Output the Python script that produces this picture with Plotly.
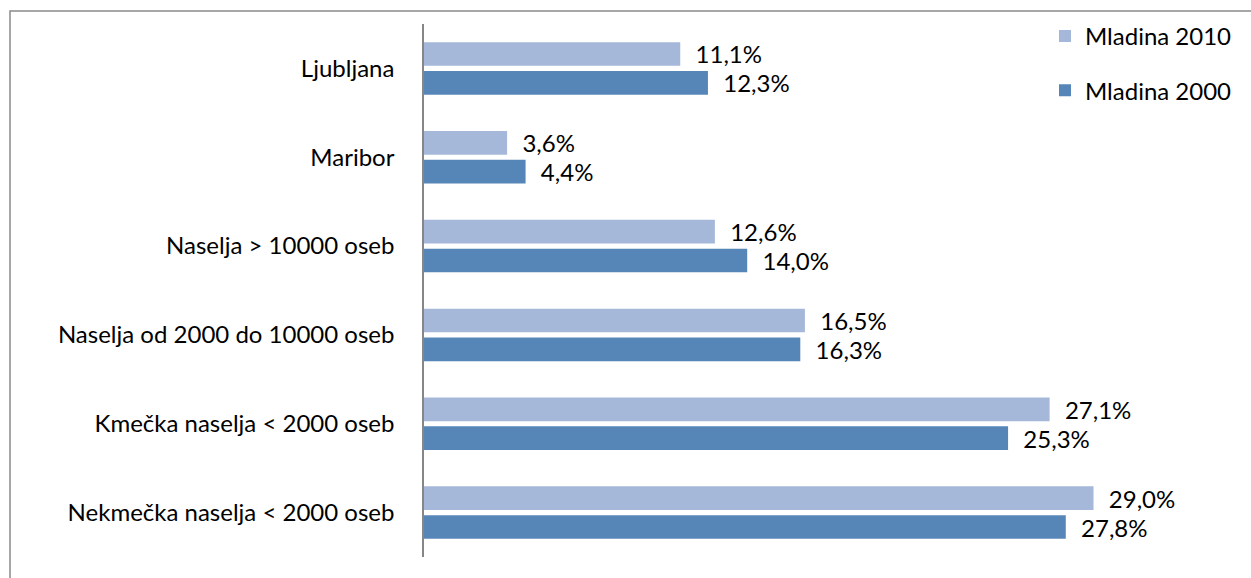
import plotly.graph_objects as go

categories = ["Ljubljana", "Maribor", "Naselja > 10000 oseb",
              "Naselja od 2000 do 10000 oseb", "Kmečka naselja < 2000 oseb",
              "Nekmečka naselja < 2000 oseb"]
mladina_2010 = [11.1, 3.6, 12.6, 16.5, 27.1, 29.0]
mladina_2000 = [12.3, 4.4, 14.0, 16.3, 25.3, 27.8]
series_names = ["Mladina 2010", "Mladina 2000"]
colors = ["#A5B8D9", "#5686B8"]

FONT = "Lato"
FS = 24
NB = "\u00a0\u00a0"

fig = go.Figure()
for name, vals, col in zip(series_names, [mladina_2010, mladina_2000], colors):
    fig.add_trace(go.Bar(
        y=categories, x=vals, name=name, orientation="h",
        marker=dict(color=col, line=dict(width=0)),
        texttemplate=NB + "%{x:.1f}%", textposition="outside",
        constraintext="none",
        textfont=dict(family=FONT, size=FS, color="#000000"),
        cliponaxis=False, legendgroup=name,
    ))

W, H = 1251, 578
L, R, T, B = 424, 19, 24, 21
pw = W - L - R
ph = H - T - B

fig.update_layout(
    width=W, height=H,
    margin=dict(l=L, r=R, t=T, b=B, pad=0),
    paper_bgcolor="white", plot_bgcolor="white",
    separators=", ",
    barmode="group", bargap=0.35, bargroupgap=0.18,
    font=dict(family=FONT, size=FS, color="#000000"),
    showlegend=True,
    legend=dict(x=(1045 - L) / pw, y=1.019, xanchor="left", yanchor="top",
                bgcolor="rgba(0,0,0,0)", font=dict(family=FONT, size=FS),
                tracegroupgap=20, traceorder="grouped"),
    xaxis=dict(range=[0, 35], showgrid=False, zeroline=False,
               showticklabels=False, ticks="", showline=False, fixedrange=True),
    yaxis=dict(autorange="reversed", showgrid=False, zeroline=False,
               showline=True, linecolor="#868686", linewidth=1.5,
               ticks="", ticklabelstandoff=23,
               tickfont=dict(family=FONT, size=FS, color="#000000")),
    shapes=[dict(type="rect", xref="paper", yref="paper",
                 x0=(10 - L) / pw, x1=1.2, y0=-0.2, y1=1 + (T - 11) / ph,
                 line=dict(color="#8a8a8a", width=1.5), fillcolor="rgba(0,0,0,0)",
                 layer="below")],
)

fig.write_html("out.html", config={"displayModeBar": False},
               post_script="document.body.style.margin='0';")
